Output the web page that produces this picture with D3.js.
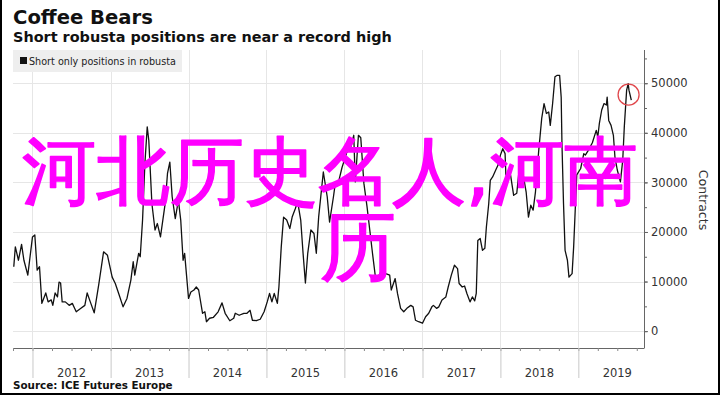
<!DOCTYPE html>
<html>
<head>
<meta charset="utf-8">
<script src="https://cdn.jsdelivr.net/npm/d3@7"></script>
<style>
body { margin: 0; background: #fff; }
svg { display: block; }
text { font-family: "DejaVu Sans", sans-serif; }
</style>
</head>
<body>
<svg id="chart" width="720" height="395"></svg>
<script>
var title = "Coffee Bears";
var subtitle = "Short robusta positions are near a record high";
var legendLabel = "Short only positions in robusta";
var sourceText = "Source: ICE Futures Europe";
var axisTitle = "Contracts";
var watermark = ["河北历史名人,河南", "历"];

var yearLabels = [2012, 2013, 2014, 2015, 2016, 2017, 2018, 2019];
var yTicks = [0, 10000, 20000, 30000, 40000, 50000];

// weekly dates as decimal years
var dates = [
    2011.76, 2011.78, 2011.82, 2011.86, 2011.89, 2011.94, 2012.00, 2012.03, 2012.06, 2012.09,
    2012.12, 2012.17, 2012.20, 2012.24, 2012.26, 2012.29, 2012.32, 2012.34, 2012.36, 2012.38,
    2012.42, 2012.47, 2012.51, 2012.53, 2012.56, 2012.62, 2012.67, 2012.70, 2012.74, 2012.79,
    2012.85, 2012.91, 2012.96, 2013.02, 2013.06, 2013.11, 2013.16, 2013.21, 2013.26, 2013.29,
    2013.31, 2013.36, 2013.38, 2013.41, 2013.44, 2013.47, 2013.49, 2013.53, 2013.57, 2013.60,
    2013.64, 2013.70, 2013.73, 2013.76, 2013.79, 2013.83, 2013.87, 2013.90, 2013.93, 2013.95,
    2014.00, 2014.03, 2014.07, 2014.10, 2014.13, 2014.18, 2014.21, 2014.23, 2014.27, 2014.32,
    2014.38, 2014.43, 2014.47, 2014.53, 2014.58, 2014.60, 2014.65, 2014.71, 2014.75, 2014.79,
    2014.82, 2014.87, 2014.92, 2014.97, 2015.01, 2015.04, 2015.07, 2015.10, 2015.14, 2015.16,
    2015.19, 2015.22, 2015.26, 2015.30, 2015.33, 2015.37, 2015.40, 2015.44, 2015.47, 2015.50,
    2015.53, 2015.57, 2015.61, 2015.64, 2015.67, 2015.73, 2015.78, 2015.81, 2015.86, 2015.88,
    2015.93, 2015.97, 2016.03, 2016.08, 2016.12, 2016.14, 2016.18, 2016.21, 2016.25, 2016.29,
    2016.36, 2016.40, 2016.43, 2016.47, 2016.53, 2016.58, 2016.60, 2016.65, 2016.68, 2016.72,
    2016.76, 2016.80, 2016.85, 2016.88, 2016.91, 2016.95, 2017.00, 2017.04, 2017.08, 2017.12,
    2017.14, 2017.18, 2017.21, 2017.25, 2017.30, 2017.33, 2017.37, 2017.41, 2017.45, 2017.47,
    2017.51, 2017.54, 2017.57, 2017.61, 2017.64, 2017.67, 2017.69, 2017.71, 2017.74, 2017.77,
    2017.80, 2017.82, 2017.85, 2017.87, 2017.90, 2017.94, 2017.97, 2018.00, 2018.03, 2018.06,
    2018.07, 2018.11, 2018.13, 2018.17, 2018.21, 2018.24, 2018.27, 2018.30, 2018.33, 2018.36,
    2018.39, 2018.42, 2018.45, 2018.49, 2018.53, 2018.56, 2018.59, 2018.62, 2018.64, 2018.67,
    2018.70, 2018.73, 2018.76, 2018.78, 2018.79, 2018.81, 2018.83, 2018.86, 2018.88, 2018.92,
    2018.94, 2018.96, 2018.98, 2019.03, 2019.07, 2019.09, 2019.13, 2019.18, 2019.23, 2019.25,
    2019.27, 2019.30, 2019.33, 2019.36, 2019.37, 2019.39, 2019.42, 2019.45, 2019.47, 2019.50,
    2019.54, 2019.57, 2019.59, 2019.62, 2019.64, 2019.65, 2019.68
];

// short only positions in robusta, contracts
var shorts = [
    13000, 17000, 14300, 17500, 14300, 11300, 19000, 19400, 12300, 13000,
    5600, 7700, 5900, 6300, 5200, 7700, 6900, 9900, 9700, 5900,
    5900, 5200, 5600, 4900, 3900, 4600, 5200, 7700, 5900, 3700,
    9600, 16000, 15300, 10900, 9600, 7300, 4900, 6600, 10300, 14000,
    11300, 15700, 15000, 22400, 33800, 41200, 38500, 25700, 20400, 21700,
    19000, 25700, 31800, 34100, 27100, 22700, 26400, 22400, 14300, 15700,
    6600, 7900, 8300, 8900, 8300, 3600, 3900, 1900, 2600, 2800,
    3900, 5700, 3600, 2100, 2600, 3600, 3200, 3600, 3600, 4200,
    2200, 2100, 2400, 3900, 5900, 7600, 5900, 7600, 5600, 8900,
    17000, 23000, 22400, 20700, 23000, 24700, 26100, 22400, 15700, 9700,
    15700, 20400, 19700, 15700, 23000, 32100, 27100, 22000, 27100, 29400,
    30400, 33000, 36000, 37000, 39500, 30100, 39500, 39000, 29800, 25100,
    15700, 10600, 10900, 12000, 11600, 11300, 8300, 10600, 7600, 4600,
    3900, 4600, 5200, 4900, 2200, 1900, 1600, 2900, 3600, 4900,
    5200, 4600, 4900, 6300, 6900, 8900, 11300, 13300, 12600, 9600,
    8900, 9100, 7600, 5900, 6900, 6100, 7600, 18300, 18700, 16300,
    16700, 21000, 25700, 30400, 31100, 32500, 33500, 35500, 36800, 35800,
    31500, 31100, 31500, 27400, 27800, 32500, 33800, 30800, 28100, 23000,
    25400, 24400, 28100, 36100, 42900, 45900, 43900, 44200, 41500, 45900,
    51300, 51600, 51600, 47200, 37800, 25700, 16300, 14300, 10900, 11600,
    17000, 24400, 31500, 32800, 35800, 35500, 36500, 38000, 40500, 39200,
    41900, 44600, 45900, 45600, 47200, 42500, 41500, 39500, 35100, 32500,
    30100, 34500, 41200, 48600, 49900, 48600, 46600
];

// circled latest reading
var highlight = [2019.645, 47700];

function toDate(t) {
    var yr = Math.floor(t);
    var start = new Date(yr, 0, 1), end = new Date(yr + 1, 0, 1);
    return new Date(+start + (t - yr) * (end - start));
}

// shrink or grow a text to the width it has in the picture
function fitWidth(sel, w) {
    var len = sel.node().getComputedTextLength();
    var fs = parseFloat(sel.attr("font-size"));
    sel.attr("font-size", fs * w / len);
}

var svg = d3.select("#chart");
var plotLeft = 13, plotRight = 644, plotTop = 50, plotBottom = 348;

var x = d3.scaleTime()
    .domain([toDate(2011.75), toDate(2019.83)])
    .range([plotLeft, 643]);
var y = d3.scaleLinear()
    .domain([-3400, 56700])
    .range([plotBottom, plotTop]);

var series = dates.map(function (d, i) { return { date: toDate(d), value: shorts[i] }; });

// grid
svg.append("g").selectAll("line").data(yTicks).join("line")
    .attr("x1", plotLeft).attr("x2", plotRight)
    .attr("y1", function (d) { return Math.round(y(d)) + 0.5; })
    .attr("y2", function (d) { return Math.round(y(d)) + 0.5; })
    .attr("stroke", "#e6e6e6").attr("stroke-width", 1);

svg.append("g").selectAll("line").data(yearLabels).join("line")
    .attr("x1", function (d) { return Math.round(x(toDate(d))) + 0.5; })
    .attr("x2", function (d) { return Math.round(x(toDate(d))) + 0.5; })
    .attr("y1", plotTop).attr("y2", plotBottom)
    .attr("stroke", "#e6e6e6").attr("stroke-width", 1);

// legend
svg.append("rect").attr("x", plotLeft).attr("y", plotTop).attr("width", 169).attr("height", 22).attr("fill", "#eeeeee");
svg.append("rect").attr("x", 20).attr("y", 57).attr("width", 7).attr("height", 7).attr("fill", "#111");
var leg = svg.append("text").attr("x", 29).attr("y", 64.5).attr("font-size", 10).attr("fill", "#222")
    .text(legendLabel);
fitWidth(leg, 147);

// bottom axis
var quarters = [];
for (var q = 2011.75; q <= 2019.76; q += 0.25) quarters.push(toDate(q));
var xAxisMinor = d3.axisBottom(x).tickValues(quarters).tickSize(3).tickFormat("");
var xAxisYears = d3.axisBottom(x).tickValues(yearLabels.map(toDate)).tickSize(30).tickFormat("");

var gx = svg.append("g").attr("transform", "translate(0," + plotBottom + ")").call(xAxisMinor);
gx.select(".domain").attr("stroke", "#666").attr("d", "M" + plotLeft + ",0.5H" + plotRight);
gx.selectAll(".tick line").attr("stroke", "#888");
var gxy = svg.append("g").attr("transform", "translate(0," + plotBottom + ")").call(xAxisYears);
gxy.select(".domain").remove();
gxy.selectAll(".tick line").attr("stroke", "#c8c8c8");

svg.append("g").selectAll("text").data(yearLabels).join("text")
    .attr("x", function (d) { return x(toDate(d + 0.5)); })
    .attr("y", 377)
    .attr("text-anchor", "middle")
    .attr("font-size", 11.5)
    .attr("fill", "#333")
    .text(function (d) { return d; });

// right axis
var minorY = d3.range(0, 56000, 5000);
var yAxisMinor = d3.axisRight(y).tickValues(minorY).tickSize(3).tickFormat("");
var yAxis = d3.axisRight(y).tickValues(yTicks).tickSize(4).tickPadding(3).tickFormat(d3.format("d"));

var gm = svg.append("g").attr("transform", "translate(" + plotRight + ",0)").call(yAxisMinor);
gm.select(".domain").remove();
gm.selectAll(".tick line").attr("stroke", "#666");
var gy = svg.append("g").attr("transform", "translate(" + plotRight + ",0)").call(yAxis);
gy.select(".domain").attr("stroke", "#666").attr("d", "M0.5," + plotTop + "V" + (plotBottom + 0.5));
gy.selectAll(".tick line").attr("stroke", "#666");
gy.selectAll(".tick text").attr("font-size", 11.5).attr("fill", "#333")
    .attr("font-family", "DejaVu Sans");

svg.append("text")
    .attr("transform", "translate(699,200) rotate(90)")
    .attr("text-anchor", "middle")
    .attr("font-size", 12.5)
    .attr("fill", "#333")
    .text(axisTitle);

// series
var line = d3.line()
    .x(function (d) { return x(d.date); })
    .y(function (d) { return y(d.value); });

svg.append("path").datum(series)
    .attr("d", line)
    .attr("fill", "none")
    .attr("stroke", "#111")
    .attr("stroke-width", 1.3)
    .attr("stroke-linejoin", "round");

svg.append("circle")
    .attr("cx", x(toDate(highlight[0])))
    .attr("cy", y(highlight[1]))
    .attr("r", 10.5)
    .attr("fill", "none")
    .attr("stroke", "#e0474c")
    .attr("stroke-width", 1.3);

// titles
var t1 = svg.append("text").attr("x", 13).attr("y", 24).attr("font-size", 19)
    .attr("font-weight", "bold").attr("fill", "#111").text(title);
fitWidth(t1, 140);
var t2 = svg.append("text").attr("x", 13).attr("y", 42).attr("font-size", 14)
    .attr("font-weight", "bold").attr("fill", "#111").text(subtitle);
fitWidth(t2, 379);
var src = svg.append("text").attr("x", 13).attr("y", 389).attr("font-size", 10)
    .attr("font-weight", "bold").attr("fill", "#111").text(sourceText);
fitWidth(src, 160);

// frame
svg.append("path")
    .attr("d", "M1,0V394H719V0")
    .attr("fill", "none")
    .attr("stroke", "#000")
    .attr("stroke-width", 2);

// watermark text on top of everything (a thin stroke thickens the glyphs)
var w1 = svg.append("text").attr("x", 22).attr("y", 197)
    .attr("font-family", "Noto Sans CJK SC").attr("font-size", 76)
    .attr("fill", "#ff00ff").attr("stroke", "#ff00ff").attr("stroke-width", 1.6)
    .attr("stroke-linejoin", "round")
    .text(watermark[0]);
fitWidth(w1, 619);
svg.append("text").attr("x", 320).attr("y", 273)
    .attr("font-family", "Noto Sans CJK SC").attr("font-size", 76)
    .attr("fill", "#ff00ff").attr("stroke", "#ff00ff").attr("stroke-width", 1.6)
    .attr("stroke-linejoin", "round")
    .text(watermark[1]);
</script>
</body>
</html>
